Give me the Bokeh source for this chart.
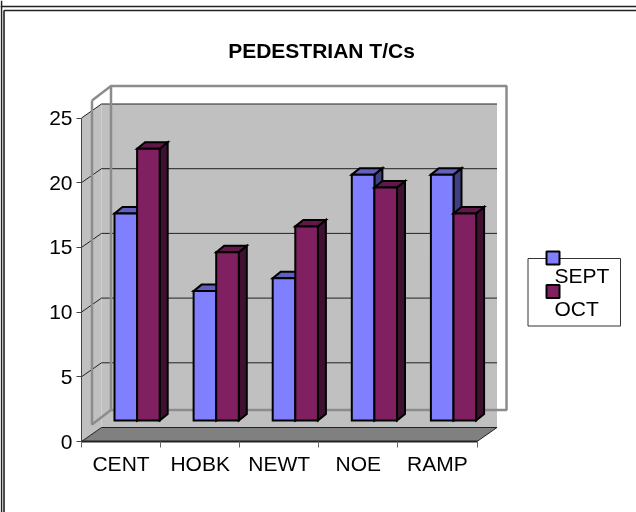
from bokeh.plotting import figure
from bokeh.embed import file_html
from bokeh.resources import INLINE
from bokeh.models import Range1d, LinearAxis, FixedTicker
from bokeh.core.properties import value

# ---- data ----
categories = ["CENT", "HOBK", "NEWT", "NOE", "RAMP"]
sept = [16, 10, 11, 19, 19]
oct_ = [21, 13, 15, 18, 16]
y_ticks = [0, 5, 10, 15, 20, 25]
series_names = ["SEPT", "OCT"]

# ---- appearance ----
W, H = 636, 512
X0, CAT_PX = 81.0, 79.1      # pixel of x=0, pixels per category
Y0, VAL_PX = 441.0, 12.94    # pixel of y=0, pixels per value unit
FONT = "Liberation Sans"
TEXT_SIZE = "21px"
SEPT_C = ("#8080FF", "#6060BF", "#404080")
OCT_C = ("#802060", "#601848", "#401030")
WALL, FLOOR, BOX = "#C0C0C0", "#808080", "#8C8C8C"


def px(v):  # pixel -> data, for the chart's furniture
    return (v - X0) / CAT_PX


def py(v):
    return (Y0 - v) / VAL_PX


p = figure(width=W, height=H, output_backend="svg", toolbar_location=None,
           x_range=Range1d(px(0), px(W)), y_range=Range1d(py(H), py(0)),
           x_axis_type=None, y_axis_type=None, min_border=0,
           outline_line_color=None, background_fill_color="white",
           border_fill_color="white")
p.grid.visible = False
p.styles = {"position": "fixed", "left": "0px", "top": "0px"}

DX, DY = px(X0 + 20), py(Y0 - 14)   # 3-D shift of the back wall
top_v = y_ticks[-1]

# walls and floor
p.patch([0, DX, DX, 0], [top_v, top_v + DY, DY, 0], fill_color=WALL, line_color=None)
p.patch([DX, 5 + DX, 5 + DX, DX], [top_v + DY, top_v + DY, DY, DY],
        fill_color=WALL, line_color=None)
p.patch([0, DX, 5 + DX, 5], [0, DY, DY, 0], fill_color=FLOOR, line_color="#222222", line_width=1)

# gridlines
for t in y_ticks[1:]:
    p.line([0, DX, 5 + DX], [t, t + DY, t + DY], line_color="#222222", line_width=1)

# the grey box behind the bars
bl, br = px(91.5), px(110.5)
bt, bb = py(100), py(424)
tt, tb = py(85.5), py(409.5)
p.line([bl, br, px(506), px(506), br, bl, bl],
       [bt, tt, tt, tb, tb, bb, bt], line_color=BOX, line_width=2.5)
p.line([br, br], [tt, tb], line_color=BOX, line_width=2.5)

# bars
BASE = py(420)
B_START, B_W = px(114), 22.6 / CAT_PX
BX, BY = 8 / CAT_PX, 6.5 / VAL_PX


def bar(x, v, colors):
    l, r, t, b = x, x + B_W, BASE + v, BASE
    edge = dict(line_color="black", line_width=2, line_join="miter")
    p.patch([r, r + BX, r + BX, r], [b, b + BY, t + BY, t], fill_color=colors[2], **edge)
    p.patch([l, l + BX, r + BX, r], [t, t + BY, t + BY, t], fill_color=colors[1], **edge)
    p.quad(left=l, right=r, top=t, bottom=b, fill_color=colors[0], **edge)


for i, (a, b) in enumerate(zip(sept, oct_)):
    start = B_START + i
    bar(start, a, SEPT_C)
    bar(start + B_W, b, OCT_C)

# real axes, held at the front edge of the floor
yax = LinearAxis(fixed_location=0, ticker=FixedTicker(ticks=y_ticks), bounds=(0, top_v),
                 axis_line_color="#444444", axis_line_width=1,
                 major_tick_line_color="#444444", major_tick_out=5, major_tick_in=0,
                 minor_tick_line_color=None, major_label_standoff=4,
                 major_label_text_font=FONT, major_label_text_font_size=TEXT_SIZE,
                 major_label_text_color="black")
p.add_layout(yax, "left")

centers = [i + 0.5 for i in range(len(categories))]
edges = list(range(len(categories) + 1))
xax = LinearAxis(fixed_location=0, ticker=FixedTicker(ticks=centers, minor_ticks=edges),
                 bounds=(0, len(categories)),
                 major_label_overrides=dict(zip(centers, categories)),
                 axis_line_color="#222222", axis_line_width=2,
                 major_tick_line_color=None, major_tick_out=0, major_tick_in=0,
                 minor_tick_line_color="#666666", minor_tick_out=6, minor_tick_in=0,
                 major_label_standoff=4,
                 major_label_text_font=FONT, major_label_text_font_size=TEXT_SIZE,
                 major_label_text_color="black")
p.add_layout(xax, "below")

# title
p.text([px(321)], [py(50)], text=["PEDESTRIAN T/Cs"], text_font=value(FONT),
       text_font_style="bold", text_font_size="21px", text_align="center",
       text_baseline="middle", text_color="black")

# legend
p.quad(left=px(527.5), right=px(620), top=py(258), bottom=py(325.5),
       fill_color="white", line_color="#333333", line_width=1)
for name, colors, sq_t, mid in zip(series_names, (SEPT_C, OCT_C), (251, 284.5), (275, 308)):
    p.quad(left=px(546), right=px(559), top=py(sq_t), bottom=py(sq_t + 13),
           fill_color=colors[0], line_color="black", line_width=2)
    p.text([px(554)], [py(mid)], text=[name], text_font=value(FONT), text_font_size=TEXT_SIZE,
           text_baseline="middle", text_color="black")

# page frame lines
p.line([px(0), px(W)], [py(6), py(6)], line_color="#222222", line_width=1.6)
p.line([px(3.5), px(W)], [py(10), py(10)], line_color="#222222", line_width=1.6)
p.line([px(3.5), px(3.5)], [py(10), py(H)], line_color="#222222", line_width=1.6)
p.line([px(1), px(1)], [py(0), py(H)], line_color="#222222", line_width=1.6)

open("out.html", "w").write(file_html(p, INLINE))
